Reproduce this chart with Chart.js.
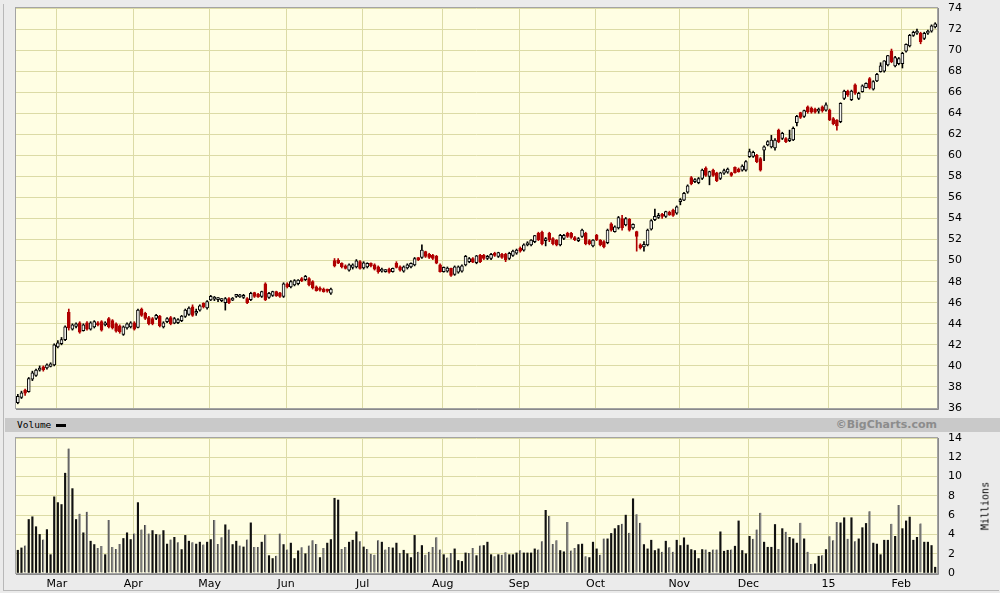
<!DOCTYPE html>
<html>
<head>
<meta charset="utf-8">
<script src="https://cdn.jsdelivr.net/npm/chart.js@4.4.1/dist/chart.umd.min.js"></script>
<style>
  html, body { margin: 0; padding: 0; }
  body {
    width: 1000px; height: 593px; position: relative; overflow: hidden;
    background: #ebebeb; font-family: "DejaVu Sans", Verdana, sans-serif;
  }
  #frame { position: absolute; left: 3px; top: 4px; width: 995px; height: 586px; border-left: 1px solid #b8b8b8; border-bottom: 1px solid #b8b8b8; }
  #priceWrap { position: absolute; left: 0; top: 0; width: 1000px; height: 418px; }
  #volWrap { position: absolute; left: 0; top: 418px; width: 1000px; height: 175px; }
  #band { position: absolute; left: 5px; top: 418px; width: 995px; height: 14px; background: #c9c9c9; }
  #bandLabel { position: absolute; left: 17px; top: 419px; font: 9.5px "DejaVu Sans Mono", monospace; line-height: 12px; color: #000; }
  #bandDash { position: absolute; left: 56px; top: 424px; width: 10px; height: 3px; background: #000; }
  #credit { position: absolute; right: 63px; top: 418px; font: bold 11px "DejaVu Sans", Verdana, sans-serif; line-height: 14px; color: #8c8c8c; }
  #millions { position: absolute; left: 985px; top: 506px; transform: translate(-50%, -50%) rotate(-90deg);
    font: 10px "DejaVu Sans Mono", monospace; color: #000; white-space: nowrap; }
</style>
</head>
<body>
<div id="frame"></div>
<div id="priceWrap"><canvas id="price" width="1000" height="418"></canvas></div>
<div id="volWrap"><canvas id="volume" width="1000" height="175"></canvas></div>
<div id="band"></div>
<div id="bandLabel">Volume</div>
<div id="bandDash"></div>
<div id="credit">©BigCharts.com</div>
<div id="millions">Millions</div>

<script>
// ===== 日线数据（按月分段，从图上读取） =====

const opens = [
  36.5, 37.0, 37.7, 37.55, 38.75, 39.1, 39.6, 39.9, 39.8, 39.95, 40.1,
  41.8, 42.1, 42.5, 45.1, 43.5, 43.75, 44.1, 43.35, 44.1, 43.5, 43.7, 44.1, 44.2, 43.9, 44.5, 44.3, 44.0, 43.8, 43.0, 43.6, 43.7,
  44.1, 43.66, 45.4, 45.0, 44.6, 44.5, 44.5, 44.7, 43.7, 44.2, 44.6, 44.05, 44.1, 44.3, 44.7, 44.9, 45.6, 45.0, 45.3, 45.95, 45.5,
  46.26, 46.35, 46.3, 46.2, 46.0, 46.4, 46.25, 46.6, 46.55, 46.5, 46.4, 46.3, 46.96, 46.8, 46.6, 47.8, 46.5, 46.7, 47.05, 46.95, 46.6,
  47.8, 47.5, 47.7, 47.8, 48.3, 48.2, 48.3, 48.0, 47.5, 47.4, 47.3, 47.2, 46.9, 50.0, 50.06, 49.75, 49.5, 49.1, 49.35, 49.4, 49.9,
  49.3, 49.4, 49.75, 49.6, 49.4, 49.0, 48.95, 49.2, 48.95, 49.75, 49.4, 49.0, 49.3, 49.4, 49.6, 50.2, 50.3, 50.85, 50.6, 50.5, 50.4, 49.6,
  48.95, 49.0, 49.27, 48.7, 48.9, 49.0, 49.6, 49.9, 50.2, 49.8, 50.5, 50.5, 50.2, 50.2, 50.7, 50.4, 50.6, 50.6, 50.2, 50.5, 50.7,
  51.2, 51.0, 51.5, 51.5, 51.8, 52.6, 52.7, 51.9, 52.6, 52.1, 51.96, 51.5, 52.1, 52.6, 52.6, 52.2, 51.9, 52.3, 52.6, 51.9, 51.4,
  52.4, 51.96, 51.8, 51.7, 53.5, 52.75, 53.1, 54.0, 53.4, 53.95, 53.1, 52.75, 51.5, 51.3, 51.5, 53.0, 53.9, 54.1, 54.4, 54.2, 54.6, 54.8, 54.5,
  55.6, 55.75, 56.5, 57.9, 57.5, 57.4, 57.8, 58.8, 58.0, 58.6, 58.35, 57.8, 58.3, 58.4, 58.35, 58.86, 58.7, 58.6, 58.6,
  59.88, 59.9, 60.0, 59.7, 60.5, 61.0, 60.8, 60.7, 62.4, 61.6, 61.6, 61.4, 61.46, 63.1, 64.06, 63.7, 64.6, 64.5, 64.4, 64.2, 64.6, 64.3,
  64.3, 63.5, 63.36, 63.2, 65.4, 66.1, 65.3, 66.7, 65.4, 66.05, 66.43, 67.3, 66.3, 67.07, 67.95, 68.0, 68.6, 69.9, 68.5, 68.7,
  68.7, 69.9, 70.4, 71.4, 71.6, 71.6, 71.1, 71.6, 71.8, 72.2
];

const highs = [
  37.3, 37.6, 37.8, 38.9, 39.5, 39.7, 40.0, 40.0, 40.2, 40.3, 42.1,
  42.4, 42.7, 43.8, 45.4, 44.0, 44.1, 44.2, 44.0, 44.2, 44.2, 44.3, 44.2, 44.3, 44.2, 44.6, 44.4, 44.1, 43.9, 43.8, 44.1, 44.2,
  44.2, 45.4, 45.5, 45.1, 44.7, 44.6, 44.9, 44.8, 44.2, 44.6, 44.7, 44.6, 44.5, 44.8, 45.4, 45.6, 45.8, 45.4, 45.8, 46.0, 46.2,
  46.7, 46.6, 46.5, 46.4, 46.5, 46.5, 46.5, 46.8, 46.8, 46.8, 46.5, 47.0, 47.0, 46.9, 47.1, 47.9, 47.0, 47.1, 47.1, 47.0, 47.9,
  47.9, 48.1, 48.2, 48.2, 48.4, 48.6, 48.4, 48.1, 47.6, 47.5, 47.4, 47.3, 47.4, 50.2, 50.2, 49.8, 49.6, 49.7, 49.7, 50.1, 50.0,
  49.9, 49.8, 49.8, 49.7, 49.5, 49.3, 49.15, 49.3, 49.3, 49.9, 49.5, 49.5, 49.7, 49.8, 50.3, 50.3, 51.5, 50.9, 50.7, 50.6, 50.5, 49.7,
  49.4, 49.4, 49.3, 49.5, 49.5, 49.6, 50.5, 50.3, 50.3, 50.5, 50.6, 50.6, 50.5, 50.7, 50.8, 50.8, 50.7, 50.7, 50.8, 51.0, 51.1,
  51.3, 51.6, 51.8, 52.0, 52.4, 52.7, 52.8, 52.2, 52.7, 52.2, 52.0, 52.5, 52.5, 52.7, 52.7, 52.3, 52.2, 53.0, 52.7, 52.0, 52.0,
  52.5, 52.0, 51.9, 53.0, 53.6, 53.3, 54.2, 54.3, 54.1, 54.0, 53.5, 52.8, 51.6, 51.8, 53.0, 53.9, 54.9, 54.5, 54.5, 54.7, 54.7, 54.9, 55.2,
  55.9, 56.5, 57.2, 58.0, 57.8, 57.9, 58.7, 58.9, 58.5, 58.7, 58.4, 58.4, 58.7, 58.8, 58.4, 58.9, 58.8, 59.1, 59.5,
  60.6, 60.4, 60.1, 59.8, 60.9, 61.4, 61.9, 61.6, 62.5, 62.2, 61.7, 62.4, 62.7, 63.8, 64.1, 64.3, 64.7, 64.6, 64.5, 64.5, 64.7, 65.0,
  64.4, 63.6, 63.4, 65.0, 66.2, 66.2, 66.2, 66.8, 66.0, 66.7, 66.9, 67.4, 67.1, 67.8, 68.8, 69.0, 69.5, 70.1, 69.4, 69.3,
  69.8, 70.6, 71.5, 71.8, 72.0, 71.7, 71.7, 71.9, 72.4, 72.6
];

const lows = [
  36.4, 36.9, 37.2, 37.5, 38.6, 39.0, 39.5, 39.5, 39.7, 39.9, 40.0,
  41.7, 42.0, 42.4, 43.4, 43.4, 43.6, 43.1, 43.3, 43.4, 43.4, 43.6, 43.8, 43.3, 43.8, 43.6, 43.5, 43.2, 43.1, 42.9, 43.5, 43.6,
  43.4, 43.6, 44.7, 44.4, 43.9, 43.9, 44.4, 43.7, 43.6, 44.1, 43.9, 44.0, 44.0, 44.2, 44.6, 44.8, 44.7, 44.8, 45.2, 45.5, 45.4,
  46.2, 46.2, 46.1, 46.1, 45.3, 45.9, 46.2, 46.5, 46.5, 46.4, 45.9, 46.2, 46.5, 46.5, 46.5, 46.2, 46.4, 46.6, 46.6, 46.5, 46.5,
  47.4, 47.4, 47.6, 47.7, 48.0, 48.1, 47.6, 47.3, 47.1, 47.1, 47.0, 47.0, 46.8, 49.4, 49.7, 49.3, 49.2, 49.0, 49.2, 49.3, 49.2,
  49.2, 49.3, 49.4, 49.1, 48.8, 48.9, 48.9, 48.8, 48.9, 49.3, 49.0, 48.9, 49.2, 49.3, 49.5, 50.0, 50.2, 50.3, 50.2, 50.1, 49.7, 48.9,
  48.9, 48.9, 48.5, 48.6, 48.8, 48.9, 49.5, 49.8, 49.8, 49.7, 49.8, 50.1, 50.1, 50.1, 50.4, 50.3, 50.2, 49.9, 50.1, 50.4, 50.6,
  50.8, 50.9, 51.4, 51.4, 51.7, 51.9, 51.5, 51.4, 51.8, 51.5, 51.4, 51.4, 52.0, 52.2, 52.1, 51.9, 51.8, 52.2, 51.5, 51.5, 51.3,
  51.9, 51.4, 51.2, 51.6, 52.8, 52.7, 53.0, 52.9, 53.3, 52.8, 53.0, 50.9, 51.1, 50.9, 51.4, 52.9, 53.8, 54.0, 54.0, 54.1, 54.3, 54.2, 54.4,
  55.3, 55.7, 56.4, 57.2, 57.4, 57.3, 57.7, 58.0, 57.2, 58.0, 57.5, 57.7, 58.2, 58.3, 58.0, 58.3, 58.4, 58.5, 58.5,
  59.8, 59.8, 59.3, 58.5, 59.5, 60.9, 60.7, 60.5, 61.2, 61.5, 61.2, 61.3, 61.4, 62.8, 63.5, 63.6, 64.0, 64.0, 64.0, 64.0, 64.1, 64.2,
  63.3, 62.9, 62.4, 63.1, 65.3, 65.6, 65.2, 65.8, 65.3, 66.0, 66.4, 66.3, 66.2, 67.0, 67.9, 67.9, 68.5, 68.8, 68.4, 68.6,
  68.3, 69.8, 70.3, 71.3, 71.5, 70.6, 71.0, 71.5, 71.7, 72.1
];

const closes = [
  37.1, 37.45, 37.4, 38.8, 39.35, 39.6, 39.8, 39.65, 40.1, 40.2, 42.0,
  42.2, 42.5, 43.7, 43.6, 43.9, 44.0, 43.2, 43.9, 43.5, 44.1, 44.2, 43.9, 43.4, 44.1, 43.7, 43.6, 43.3, 43.25, 43.7, 44.0, 44.1,
  43.5, 45.3, 44.8, 44.5, 44.0, 44.0, 44.8, 43.8, 44.1, 44.5, 44.0, 44.5, 44.4, 44.74, 45.3, 45.5, 44.8, 45.15, 45.7, 45.6, 46.1,
  46.6, 46.45, 46.4, 46.3, 46.4, 46.0, 46.35, 46.7, 46.65, 46.7, 46.0, 46.9, 46.6, 46.55, 47.05, 46.26, 46.9, 47.05, 46.65, 46.6, 47.8,
  47.5, 48.0, 48.1, 48.16, 48.1, 48.5, 47.7, 47.4, 47.15, 47.2, 47.05, 47.1, 47.3, 49.5, 49.75, 49.4, 49.27, 49.6, 49.6, 49.97, 49.27,
  49.8, 49.75, 49.5, 49.2, 48.95, 49.2, 49.05, 48.9, 49.27, 49.36, 49.1, 49.4, 49.6, 49.75, 50.2, 50.1, 51.0, 50.4, 50.3, 50.2, 49.75, 48.95,
  49.36, 49.3, 48.6, 49.4, 49.4, 49.5, 50.4, 50.2, 49.85, 50.45, 49.9, 50.2, 50.4, 50.6, 50.5, 50.76, 50.3, 50.1, 50.7, 50.9, 51.0,
  50.9, 51.5, 51.7, 51.96, 52.37, 52.0, 51.6, 52.05, 51.96, 51.6, 51.5, 52.4, 52.4, 52.3, 52.2, 52.0, 52.1, 52.9, 51.6, 51.6, 51.96,
  51.96, 51.5, 51.3, 52.9, 52.9, 53.2, 54.1, 53.1, 54.0, 52.9, 53.45, 52.3, 51.2, 51.55, 52.9, 53.8, 54.2, 54.3, 54.2, 54.65, 54.35, 54.3, 55.1,
  55.75, 56.4, 57.1, 57.3, 57.7, 57.8, 58.6, 58.1, 58.45, 58.1, 57.6, 58.35, 58.55, 58.7, 58.1, 58.35, 58.45, 58.99, 59.4,
  60.35, 60.3, 59.4, 58.6, 60.8, 61.3, 61.46, 61.46, 61.3, 62.1, 61.3, 61.6, 62.57, 63.7, 63.6, 64.25, 64.15, 64.1, 64.1, 64.3, 64.25, 64.8,
  63.36, 63.0, 62.8, 64.94, 66.1, 65.74, 66.1, 65.9, 65.9, 66.6, 66.84, 66.4, 67.0, 67.7, 68.5, 68.97, 69.47, 68.9, 69.3, 69.2,
  69.7, 70.55, 71.4, 71.7, 71.8, 70.8, 71.6, 71.8, 72.3, 72.5
];

// 成交量（百万股）
const volumes = [
  2.36, 2.6, 2.85, 5.55, 5.83, 4.8, 4.0, 3.47, 4.5, 1.9, 7.9,
  7.3, 7.1, 10.35, 12.9, 8.75, 5.55, 6.15, 4.17, 6.35, 3.3, 2.95, 2.6, 2.8, 1.9, 5.5, 2.7, 2.5, 3.0, 3.58, 4.17, 3.47,
  4.1, 7.3, 4.5, 4.97, 4.1, 4.4, 4.0, 4.0, 4.4, 3.0, 3.47, 3.7, 3.2, 2.43, 3.9, 3.3, 3.2, 3.0, 3.2, 2.95, 3.2,
  3.47, 5.5, 3.0, 3.7, 5.0, 4.5, 2.95, 3.3, 2.85, 2.7, 3.47, 5.2, 2.7, 2.7, 3.2, 4.0, 1.8, 1.5, 1.8, 4.1, 2.95,
  2.43, 3.1, 1.5, 2.3, 2.67, 2.0, 2.85, 3.4, 3.0, 1.6, 2.6, 3.1, 3.47, 7.75, 7.57, 2.5, 2.7, 3.2, 3.4, 4.27, 3.3,
  2.7, 2.5, 2.0, 1.9, 3.4, 3.2, 2.43, 2.7, 2.6, 3.1, 2.08, 2.36, 2.0, 1.6, 3.9, 2.2, 2.85, 1.9, 2.2, 2.7, 3.7, 2.43,
  1.9, 1.6, 2.08, 2.5, 1.3, 1.2, 2.08, 2.08, 2.6, 1.8, 2.85, 2.85, 3.2, 1.9, 1.74, 1.9, 1.9, 2.15, 1.9, 1.9, 2.08,
  2.36, 2.08, 2.08, 2.08, 2.5, 2.43, 3.3, 6.5, 5.9, 3.0, 3.4, 2.33, 2.2, 5.3, 2.33, 2.6, 2.95, 3.0, 1.74, 1.6, 3.2,
  2.5, 1.9, 3.58, 3.54, 4.1, 4.6, 4.93, 5.1, 6.0, 4.17, 7.7, 6.1, 5.2, 2.95, 2.5, 3.4, 2.33, 2.5, 2.2, 3.3, 2.67, 2.2, 3.4,
  2.85, 3.65, 2.9, 2.43, 2.33, 1.5, 2.43, 2.43, 2.15, 2.43, 2.43, 4.27, 2.26, 2.36, 2.43, 2.78, 5.4, 2.33, 2.0,
  3.8, 3.54, 4.5, 6.25, 3.2, 2.67, 2.67, 5.03, 2.5, 4.6, 4.27, 3.7, 3.54, 3.1, 5.2, 3.54, 2.2, 0.94, 0.94, 1.74, 1.84, 2.43,
  3.8, 3.4, 5.3, 5.2, 5.73, 3.54, 5.73, 3.3, 3.54, 4.7, 5.14, 6.4, 3.1, 3.0, 1.9, 3.4, 3.4, 5.1, 3.8, 7.05,
  4.6, 5.4, 5.8, 3.4, 3.7, 5.14, 3.2, 3.2, 2.85, 0.6
];

// 月份刻度：每月第一个交易日的序号
const monthStarts = [11, 32, 53, 74, 95, 117, 138, 159, 182, 201, 223, 243];
const monthLabels = ['Mar', 'Apr', 'May', 'Jun', 'Jul', 'Aug', 'Sep', 'Oct', 'Nov', 'Dec', '15', 'Feb'];

const priceTicks = { min: 36, max: 74, step: 2 };
const volumeTicks = { min: 0, max: 14, step: 2 };

// ===== 样式 =====
const PLOT_BG = '#fffee3';
const GRID = '#dcdba6';
const RED = '#b00000';
const FONT = { family: '"DejaVu Sans", Verdana, sans-serif', size: 11 };

const n = closes.length;
const idx = closes.map((_, i) => i);
const isDown = idx.map(i => closes[i] < opens[i]);
const fellFromPrev = idx.map(i => i > 0 && closes[i] < closes[i - 1]);

// 图表区背景 + 边框
const plotFrame = {
  id: 'plotFrame',
  beforeDraw(chart) {
    const a = chart.chartArea;
    const ctx = chart.ctx;
    ctx.save();
    ctx.fillStyle = PLOT_BG;
    ctx.fillRect(a.left, a.top, a.right - a.left, a.bottom - a.top);
    ctx.restore();
  },
  afterDraw(chart) {
    const a = chart.chartArea;
    const ctx = chart.ctx;
    ctx.save();
    ctx.strokeStyle = '#a4a4a4';
    ctx.lineWidth = 1;
    ctx.strokeRect(a.left - 0.5, a.top - 0.5, a.right - a.left + 1, a.bottom - a.top + 1);
    ctx.strokeStyle = '#8a8a8a';
    ctx.beginPath();
    ctx.moveTo(a.right + 1.5, a.top);
    ctx.lineTo(a.right + 1.5, a.bottom + 1.5);
    ctx.lineTo(a.left, a.bottom + 1.5);
    ctx.stroke();
    ctx.restore();
  }
};

function monthTicks(scale) {
  scale.ticks = monthStarts.map(v => ({ value: v - 0.3 }));
}

function xScale(showLabels) {
  return {
    type: 'linear',
    min: -0.5,
    max: n - 0.5,
    offset: false,
    afterBuildTicks: monthTicks,
    afterFit: s => { s.height = showLabels ? 20 : 0; },
    grid: { color: GRID, drawTicks: false, offset: false },
    border: { display: false },
    ticks: {
      display: showLabels,
      autoSkip: false,
      maxRotation: 0,
      padding: 5,
      color: '#000',
      font: FONT,
      callback: (v, i) => monthLabels[i]
    }
  };
}

// 刻度线透明，用 tickLength 把数字推离图区（ticks.padding 会挤占上下边距）
function yScale(t) {
  return {
    position: 'right',
    min: t.min,
    max: t.max,
    afterFit: s => { s.width = 63; },
    grid: { color: GRID, drawTicks: true, tickLength: 11, tickColor: 'rgba(0,0,0,0)' },
    border: { display: false },
    ticks: { stepSize: t.step, padding: 0, color: '#000', font: FONT }
  };
}

const baseOptions = {
  responsive: false,
  animation: false,
  events: [],
  plugins: { legend: { display: false }, tooltip: { enabled: false } }
};

// ===== K线图 =====
new Chart(document.getElementById('price'), {
  type: 'bar',
  data: {
    datasets: [
      {
        data: idx.map(i => ({ x: i, y: [lows[i], highs[i]] })),
        backgroundColor: idx.map(i => isDown[i] ? RED : '#000'),
        barThickness: 1,
        grouped: false,
        order: 2
      },
      {
        data: idx.map(i => ({ x: i, y: [Math.min(opens[i], closes[i]), Math.max(opens[i], closes[i])] })),
        backgroundColor: idx.map(i => isDown[i] ? RED : '#f4f4f0'),
        borderColor: idx.map(i => isDown[i] ? RED : '#000'),
        borderWidth: 1,
        borderSkipped: false,
        minBarLength: 2,
        barThickness: 3,
        grouped: false,
        order: 1
      }
    ]
  },
  options: Object.assign({}, baseOptions, {
    layout: { padding: { left: 16, top: 8, right: 0, bottom: 10 } },
    scales: { x: xScale(false), y: yScale(priceTicks) }
  }),
  plugins: [plotFrame]
});

// ===== 成交量：下跌日灰色粗柱，上涨日黑色细柱 =====
new Chart(document.getElementById('volume'), {
  type: 'bar',
  data: {
    datasets: [
      {
        data: idx.filter(i => fellFromPrev[i]).map(i => ({ x: i, y: volumes[i] })),
        backgroundColor: '#8a8a8a',
        borderColor: '#3a3a3a',
        borderWidth: { left: 1, right: 0, top: 0, bottom: 0 },
        borderSkipped: false,
        barThickness: 2,
        grouped: false
      },
      {
        data: idx.filter(i => !fellFromPrev[i]).map(i => ({ x: i, y: volumes[i] })),
        backgroundColor: '#111',
        barThickness: 1.5,
        grouped: false
      }
    ]
  },
  options: Object.assign({}, baseOptions, {
    layout: { padding: { left: 16, top: 20, right: 0, bottom: 0 } },
    scales: { x: xScale(true), y: yScale(volumeTicks) }
  }),
  plugins: [plotFrame]
});
</script>
</body>
</html>
